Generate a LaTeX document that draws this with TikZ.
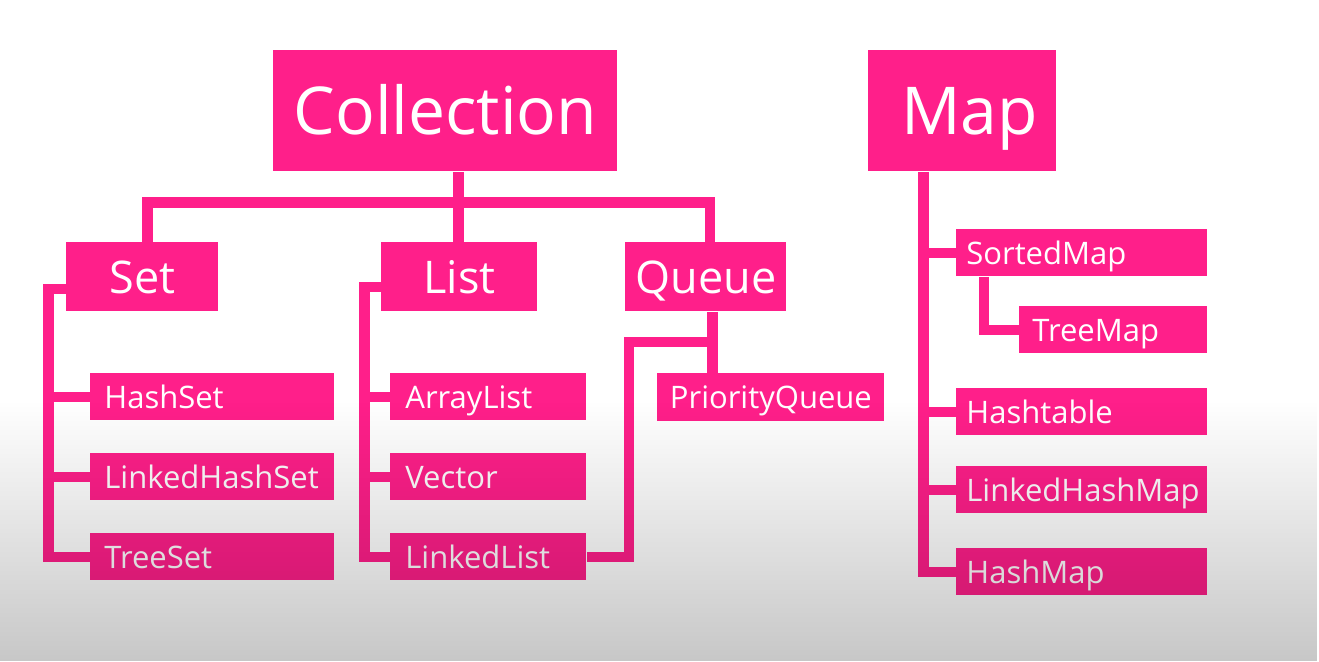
\documentclass[tikz,border=0pt]{standalone}
\usepackage{fontspec}
\setmainfont{Open Sans}
\usetikzlibrary{fadings}
\definecolor{hotpink}{RGB}{255,31,138}
\tikzfading[name=fadedown, top color=transparent!100, bottom color=transparent!0]
\hyphenpenalty=10000
\newcommand{\leaffont}{\fontsize{15.5pt}{15.5pt}\selectfont}
\tikzset{
  box/.style={fill=hotpink, text=white, anchor=north west, inner ysep=0pt},
  head/.style={box, font=\fontsize{33pt}{33pt}\selectfont, minimum height=60.5pt, minimum width=#1,
    text height=23.6pt, text depth=-3pt},
  sub/.style={box, font=\fontsize{22.5pt}{22.5pt}\selectfont, minimum height=34.5pt, minimum width=#1,
    text height=16.1pt, text depth=-1.5pt},
  leaf/.style={box, font=\leaffont, minimum height=23.5pt, align=left, text width=#1,
    text height=11.1pt, text depth=-2pt},
  link/.style={hotpink, line width=5.25pt},
}
\begin{document}
\begin{tikzpicture}[x=0.5pt,y=-0.5pt]
\useasboundingbox (0,0) rectangle (1319,661);
\fill[white] (0,0) rectangle (1319,661);

% roots
\node[head=172pt] (coll) at (273,50) {Collection};
\node[head=94pt, text width=80pt, align=center, inner xsep=4pt, xshift=0pt] (map) at (868,50) {\hspace*{7pt}Map};

% second level
\node[sub=76pt] (set) at (66,242) {Set};
\node[sub=78pt] (list) at (381,242) {List};
\node[sub=80.5pt] (queue) at (625,242) {Queue};

% set, list, queue leaves
\node[leaf=108pt, inner xsep=7pt] (hashset) at (90,373) {HashSet};
\node[leaf=108pt, inner xsep=7pt] (lhashset) at (90,453) {LinkedHashSet};
\node[leaf=108pt, inner xsep=7pt] (treeset) at (90,533) {TreeSet};
\node[leaf=83pt, inner xsep=7.5pt] (arraylist) at (390,373) {ArrayList};
\node[leaf=83pt, inner xsep=7.5pt] (vector) at (390,453) {Vector};
\node[leaf=83pt, inner xsep=7.5pt] (linkedlist) at (390,533) {LinkedList};
\node[box, font=\leaffont, minimum height=24pt, minimum width=113.5pt,
  text height=11.1pt, text depth=-2pt] (pqueue) at (657,373) {PriorityQueue};

% map leaves
\node[leaf=115.5pt, inner xsep=5pt] (sortedmap) at (956,229) {SortedMap};
\node[leaf=81pt, inner xsep=6.5pt] (treemap) at (1019,306) {TreeMap};
\node[leaf=115.5pt, inner xsep=5pt] (hashtable) at (956,388) {Hashtable};
\node[leaf=115.5pt, inner xsep=5pt] (lhashmap) at (956,466) {LinkedHashMap};
\node[leaf=115.5pt, inner xsep=5pt] (hashmap) at (956,548) {HashMap};

% collection branches
\draw[link] ([xshift=6.5pt]coll.south) -- ([xshift=6.5pt]coll.south |- list.north);
\draw[link] ([xshift=2.5pt]set.north) -- ++(0,-39.5) -| ([xshift=2pt]queue.north);

% set
\draw[link] ([yshift=-6pt]set.west) -- ++(-17.5,0) coordinate (sT) |- (treeset.west);
\foreach \n in {hashset,lhashset}
  \draw[link] (\n.west) -- (\n.west -| sT);

% list
\draw[link] ([yshift=-5pt]list.west) -- ++(-16.5,0) coordinate (lT) |- (linkedlist.west);
\foreach \n in {arraylist,vector}
  \draw[link] (\n.west) -- (\n.west -| lT);

% queue
\draw[link] ([xshift=3.25pt]queue.south) -- ([xshift=3.25pt]queue.south |- pqueue.north);
\draw[link] (linkedlist.east) -- ++(42,0) |- ([xshift=3.25pt,yshift=-15pt]queue.south);

% map
\draw[link] ([xshift=-19.5pt]map.south) coordinate (mT) |- (hashmap.west);
\foreach \n in {sortedmap,hashtable,lhashmap}
  \draw[link] (\n.west) -- (\n.west -| mT);
\draw[link] ([xshift=14pt]sortedmap.south west) |- (treemap.west);

% grey shade at the bottom
\fill[black, fill opacity=0.22, path fading=fadedown] (0,400) rectangle (1319,661);
\end{tikzpicture}
\end{document}
